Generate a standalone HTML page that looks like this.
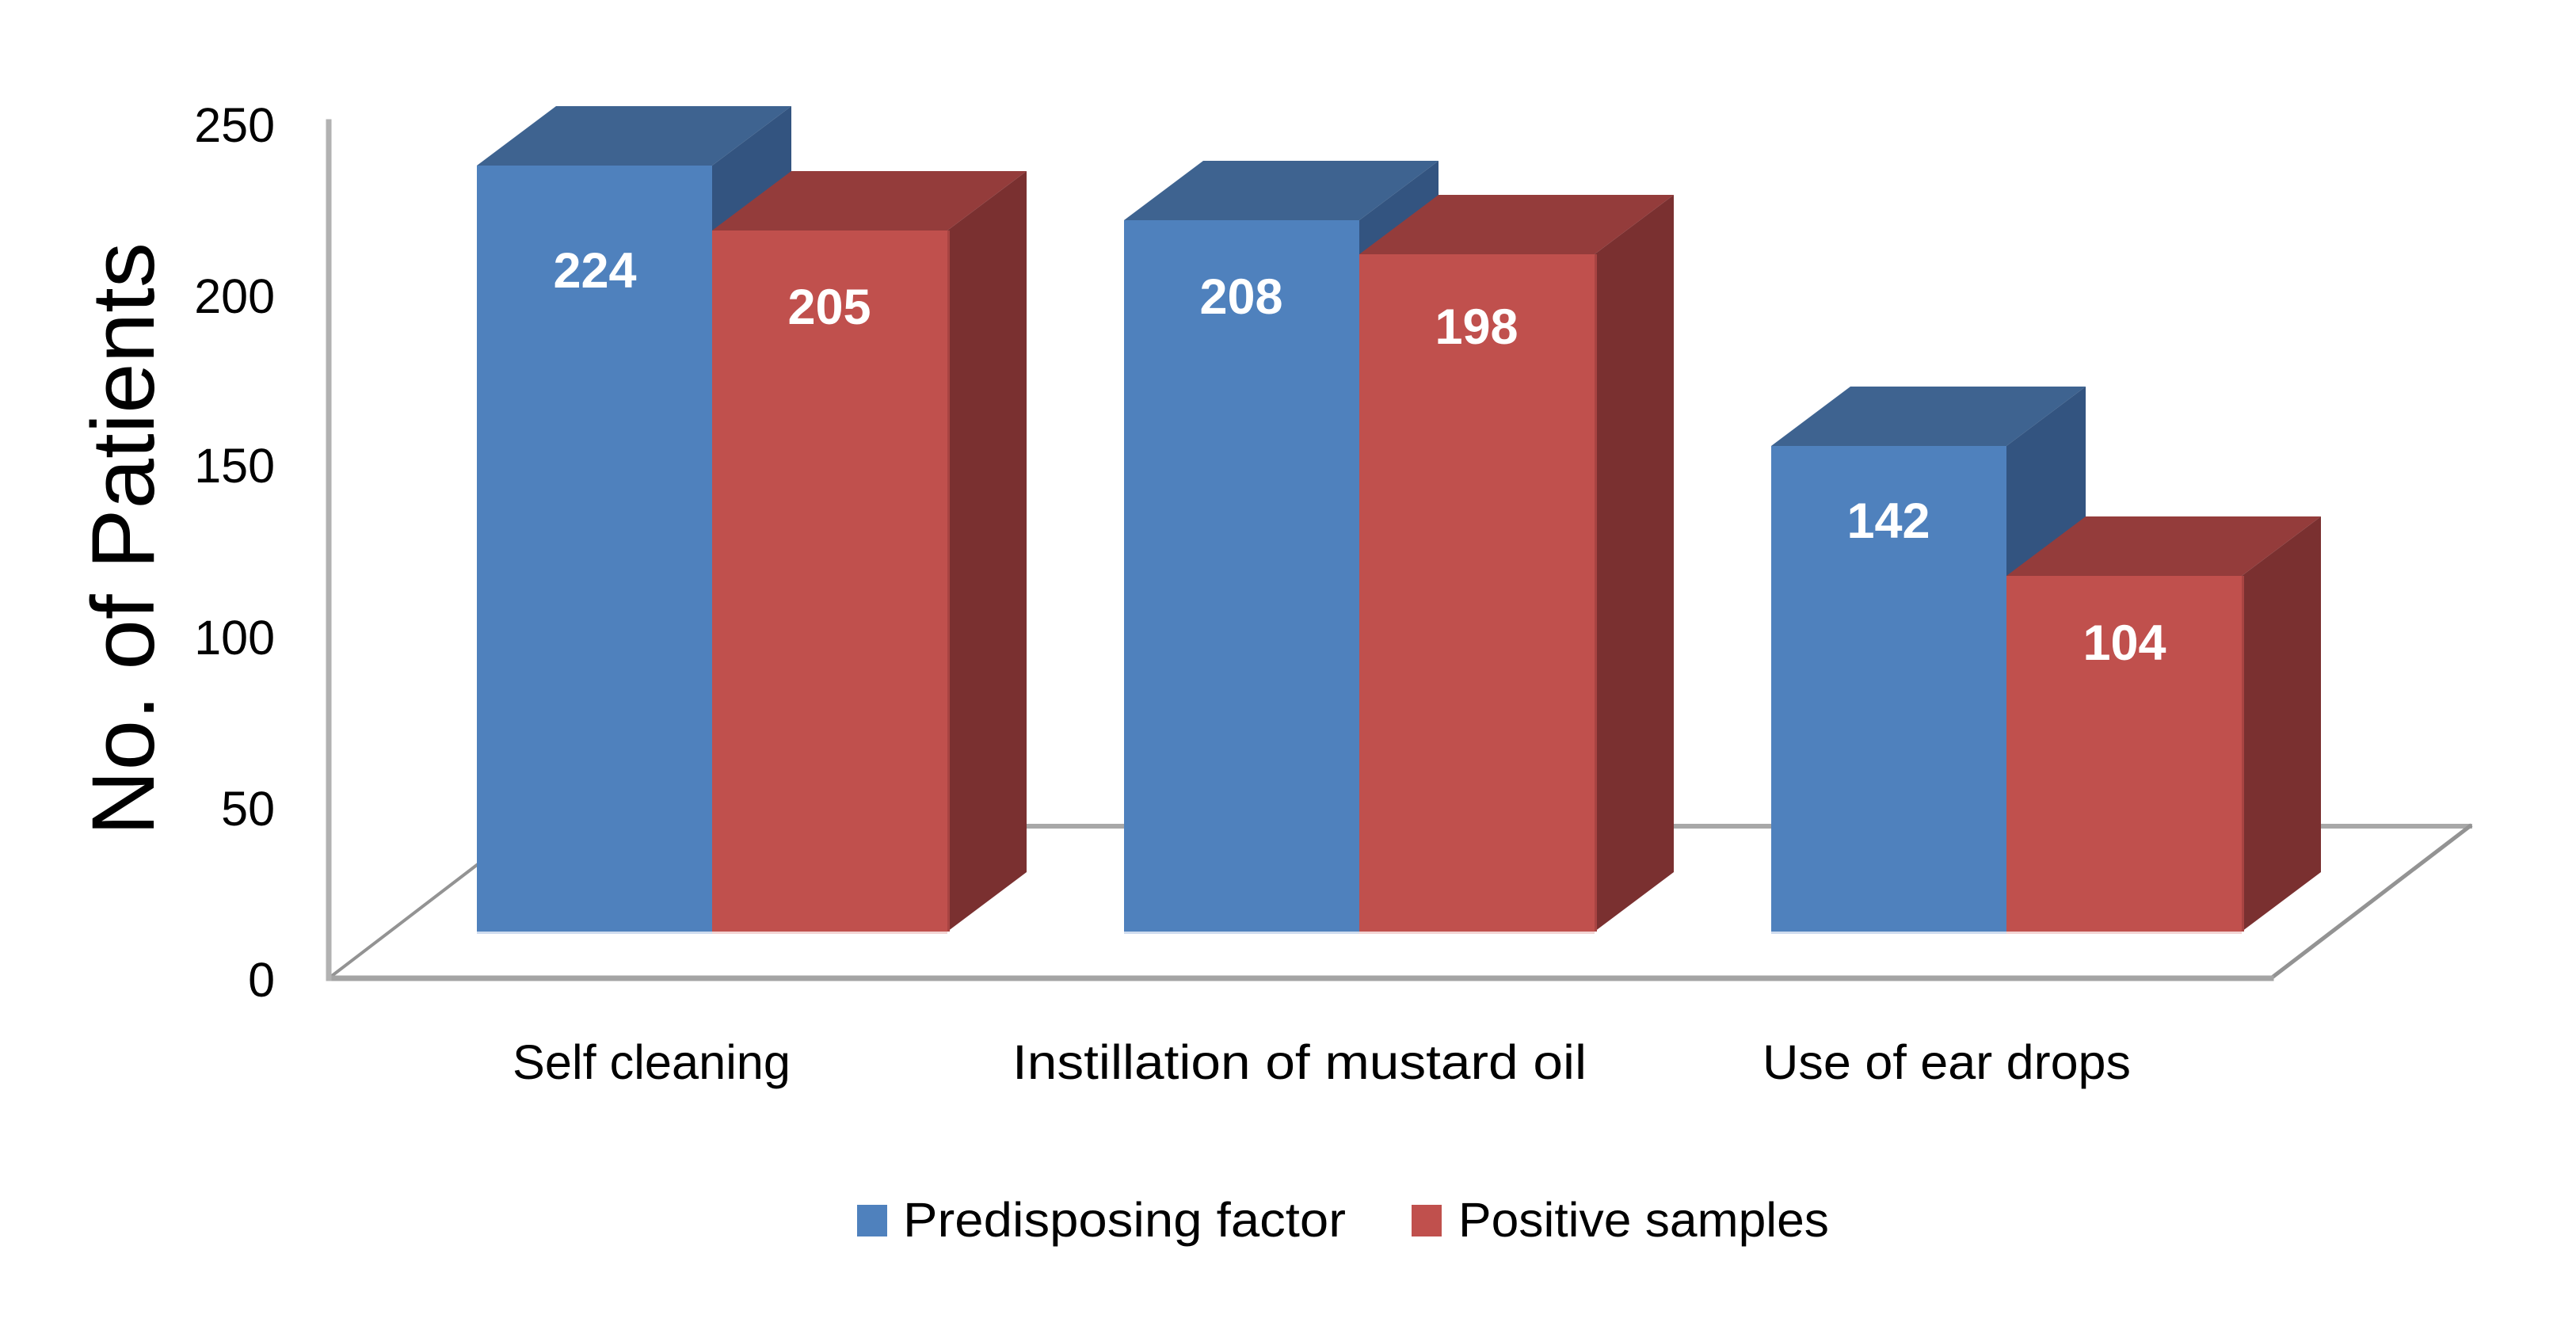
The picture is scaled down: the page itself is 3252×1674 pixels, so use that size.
<!DOCTYPE html>
<html>
<head>
<meta charset="utf-8">
<style>
  html, body { margin:0; padding:0; background:#ffffff; }
  body { width:3252px; height:1674px; overflow:hidden; }
  svg { display:block; }
  text { font-family: "Liberation Sans", Arial, sans-serif; }
</style>
</head>
<body>
<svg width="3252" height="1674" viewBox="0 0 3252 1674" xmlns="http://www.w3.org/2000/svg">
  <rect x="0" y="0" width="3252" height="1674" fill="#ffffff"/>

  <!-- Floor -->
  <g fill="none" stroke-linecap="square">
    <line x1="666" y1="1043" x2="3118" y2="1043" stroke="#a8a8a8" stroke-width="6"/>
    <line x1="2867" y1="1235" x2="3118" y2="1043" stroke="#939393" stroke-width="5"/>
    <line x1="415" y1="1235" x2="666" y2="1043" stroke="#939393" stroke-width="4"/>
    <line x1="415" y1="1235" x2="2867" y2="1235" stroke="#a4a4a4" stroke-width="7"/>
    <line x1="415" y1="154" x2="415" y2="1235" stroke="#b2b2b2" stroke-width="7"/>
  </g>

  <!-- Category 1 -->
  <!-- blue 224 -->
  <polygon points="602,209 702,134 999,134 899,209" fill="#3E6390"/>
  <polygon points="899,209 999,134 999,1101 899,1176" fill="#335480"/>
  <rect x="602" y="209" width="297" height="967" fill="#4F81BD"/>
  <rect x="602" y="1176" width="297" height="3" fill="#cfdcee"/>
  <!-- red 205 -->
  <polygon points="899,291 999,216 1296,216 1196,291" fill="#943C3B"/>
  <polygon points="1196,291 1296,216 1296,1101 1196,1176" fill="#7A3030"/>
  <rect x="899" y="291" width="297" height="885" fill="#C0504D"/>
  <rect x="1196" y="291" width="3" height="885" fill="#a84442"/>
  <rect x="899" y="1176" width="297" height="3" fill="#f2d4d3"/>

  <!-- Category 2 -->
  <polygon points="1419,278 1519,203 1816,203 1716,278" fill="#3E6390"/>
  <polygon points="1716,278 1816,203 1816,1101 1716,1176" fill="#335480"/>
  <rect x="1419" y="278" width="297" height="898" fill="#4F81BD"/>
  <rect x="1419" y="1176" width="297" height="3" fill="#cfdcee"/>
  <polygon points="1716,321 1816,246 2113,246 2013,321" fill="#943C3B"/>
  <polygon points="2013,321 2113,246 2113,1101 2013,1176" fill="#7A3030"/>
  <rect x="1716" y="321" width="297" height="855" fill="#C0504D"/>
  <rect x="2013" y="321" width="3" height="855" fill="#a84442"/>
  <rect x="1716" y="1176" width="297" height="3" fill="#f2d4d3"/>

  <!-- Category 3 -->
  <polygon points="2236,563 2336,488 2633,488 2533,563" fill="#3E6390"/>
  <polygon points="2533,563 2633,488 2633,1101 2533,1176" fill="#335480"/>
  <rect x="2236" y="563" width="297" height="613" fill="#4F81BD"/>
  <rect x="2236" y="1176" width="297" height="3" fill="#cfdcee"/>
  <polygon points="2533,727 2633,652 2930,652 2830,727" fill="#943C3B"/>
  <polygon points="2830,727 2930,652 2930,1101 2830,1176" fill="#7A3030"/>
  <rect x="2533" y="727" width="297" height="449" fill="#C0504D"/>
  <rect x="2830" y="727" width="3" height="449" fill="#a84442"/>
  <rect x="2533" y="1176" width="297" height="3" fill="#f2d4d3"/>

  <!-- Data labels -->
  <g fill="#ffffff" font-weight="bold" font-size="63" text-anchor="middle">
    <text x="751" y="363">224</text>
    <text x="1047" y="409">205</text>
    <text x="1567" y="396">208</text>
    <text x="1864" y="434">198</text>
    <text x="2384" y="679">142</text>
    <text x="2682" y="833">104</text>
  </g>

  <!-- Y tick labels -->
  <g fill="#000000" font-size="61" text-anchor="end">
    <text x="347" y="1258">0</text>
    <text x="347" y="1042">50</text>
    <text x="347" y="826">100</text>
    <text x="347" y="609">150</text>
    <text x="347" y="395">200</text>
    <text x="347" y="179">250</text>
  </g>

  <!-- Y axis title -->
  <text transform="translate(194,1055) rotate(-90)" x="0" y="0" font-size="112" fill="#000000" textLength="749" lengthAdjust="spacingAndGlyphs">No. of Patients</text>

  <!-- Category labels -->
  <g fill="#000000" font-size="61">
    <text x="647" y="1362" textLength="351" lengthAdjust="spacingAndGlyphs">Self cleaning</text>
    <text x="1278" y="1362" textLength="725" lengthAdjust="spacingAndGlyphs">Instillation of mustard oil</text>
    <text x="2225" y="1362" textLength="465" lengthAdjust="spacingAndGlyphs">Use of ear drops</text>
  </g>

  <!-- Legend -->
  <rect x="1082" y="1521" width="38" height="40" fill="#4F81BD"/>
  <text x="1140" y="1561" font-size="61" fill="#000000" textLength="559" lengthAdjust="spacingAndGlyphs">Predisposing factor</text>
  <rect x="1782" y="1521" width="38" height="40" fill="#C0504D"/>
  <text x="1841" y="1561" font-size="61" fill="#000000" textLength="468" lengthAdjust="spacingAndGlyphs">Positive samples</text>
</svg>
</body>
</html>
